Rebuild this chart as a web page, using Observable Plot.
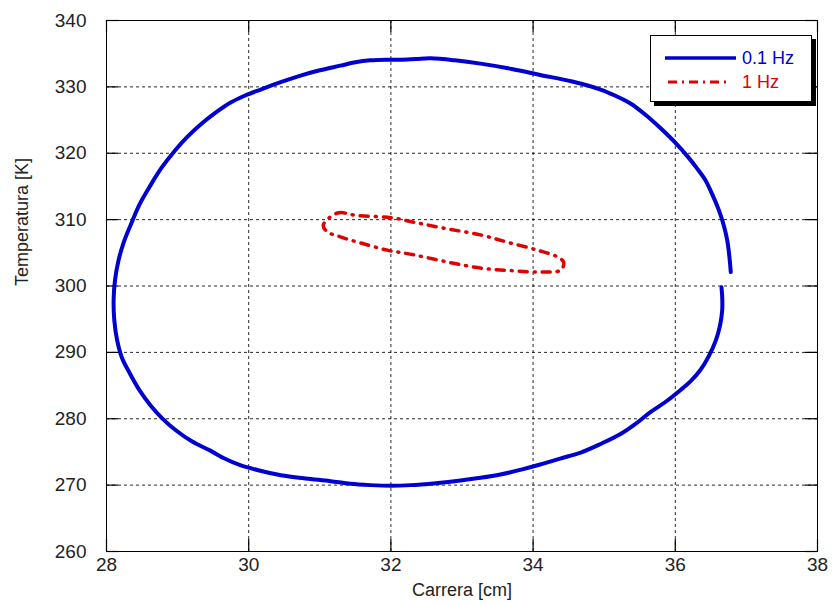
<!DOCTYPE html>
<html>
<head>
<meta charset="utf-8">
<script src="https://cdn.jsdelivr.net/npm/d3@7"></script>
<script src="https://cdn.jsdelivr.net/npm/@observablehq/plot@0.6"></script>
<style>
body{margin:0;background:#fff;font-family:"Liberation Sans",Arial,sans-serif;}
#wrap{position:relative;width:835px;height:605px;}
#legend{position:absolute;left:650px;top:35px;width:160px;height:65px;background:#fff;border:1.5px solid #000;box-shadow:4px 4px 0 #000;}
</style>
</head>
<body>
<div id="wrap"></div>
<script>
// Series 0.1 Hz (carrera cm, temperatura K)
const blueX = [36.78,36.76,36.73,36.68,36.61,36.52,36.42,36.30,36.19,36.00,35.79,35.58,35.37,35.15,34.95,34.55,34.10,33.70,33.26,32.90,32.56,32.35,32.13,31.92,31.71,31.50,31.29,31.00,30.73,30.45,30.17,29.95,29.74,29.52,29.32,29.14,28.97,28.78,28.62,28.46,28.34,28.24,28.17,28.12,28.10,28.11,28.15,28.22,28.34,28.47,28.62,28.78,28.97,29.20,29.46,29.66,29.88,30.15,30.45,30.80,31.15,31.43,31.71,32.00,32.28,32.63,32.98,33.26,33.54,33.82,34.10,34.38,34.67,34.95,35.23,35.45,35.65,35.87,36.07,36.22,36.35,36.47,36.57,36.63,36.66,36.66,36.65];
const blueY = [302.1,304.5,306.9,309.2,311.5,313.8,316.0,317.8,319.3,321.6,323.8,325.8,327.5,328.7,329.6,330.8,331.8,332.7,333.5,334.0,334.3,334.2,334.1,334.1,334.0,333.7,333.2,332.5,331.7,330.7,329.6,328.7,327.6,326.0,324.3,322.5,320.5,317.9,315.2,312.2,309.2,306.5,303.9,300.9,297.9,294.8,291.8,289.1,286.6,284.2,282.0,280.1,278.3,276.6,275.2,274.0,273.0,272.2,271.5,271.0,270.6,270.2,270.0,269.9,270.0,270.3,270.7,271.1,271.6,272.3,273.1,274.0,274.9,276.2,277.7,279.3,281.0,282.6,284.3,285.7,287.3,289.4,291.8,294.1,296.4,298.3,299.8];
// Series 1 Hz
const redX = [31.05,31.25,31.53,32.00,32.37,32.80,33.26,33.64,34.06,34.34,34.43,34.39,34.10,33.72,33.26,32.80,32.32,31.95,31.57,31.29,31.10];
const redY = [309.2,311.0,310.6,310.3,309.5,308.6,307.7,306.6,305.4,304.4,303.6,302.4,302.1,302.3,302.7,303.6,304.7,305.4,306.5,307.4,308.2];
const xTicks = [28,30,32,34,36,38];
const yTicks = [260,270,280,290,300,310,320,330,340];
const seriesNames = ["0.1 Hz","1 Hz"];
const xLabel = "Carrera [cm]";
const yLabel = "Temperatura [K]";

const blue = blueX.map((x,i)=>({x, y: blueY[i]}));
const red = redX.map((x,i)=>({x, y: redY[i]}));

const W = 835, H = 605, mL = 106, mR = 18, mT = 20, mB = 54;
const plotW = W - mL - mR, plotH = H - mT - mB;
const xDom = [28,38], yDom = [260,340];
const T = 12; // inward tick length in px, converted to data units below
const tY = T * (yDom[1]-yDom[0]) / plotH;
const tX = T * (xDom[1]-xDom[0]) / plotW;
const font = '"Liberation Sans", Arial, sans-serif';

const chart = Plot.plot({
  width: W, height: H,
  marginLeft: mL, marginRight: mR, marginTop: mT, marginBottom: mB,
  style: {fontFamily: font, fontSize: "18px", color: "#222", background: "#fff"},
  x: {domain: xDom, axis: null},
  y: {domain: yDom, axis: null},
  marks: [
    Plot.gridX(xTicks, {stroke: "#000", strokeOpacity: 0.85, strokeDasharray: "3,3"}),
    Plot.gridY(yTicks, {stroke: "#000", strokeOpacity: 0.85, strokeDasharray: "3,3"}),
    // inward ticks on all four sides
    Plot.ruleX(xTicks, {x: d=>d, y1: yDom[0], y2: yDom[0] + tY, stroke: "#000", strokeWidth: 1.2}),
    Plot.ruleX(xTicks, {x: d=>d, y1: yDom[1], y2: yDom[1] - tY, stroke: "#000", strokeWidth: 1.2}),
    Plot.ruleY(yTicks, {y: d=>d, x1: xDom[0], x2: xDom[0] + tX, stroke: "#000", strokeWidth: 1.2}),
    Plot.ruleY(yTicks, {y: d=>d, x1: xDom[1], x2: xDom[1] - tX, stroke: "#000", strokeWidth: 1.2}),
    // tick labels
    Plot.text(xTicks, {x: d=>d, frameAnchor: "bottom", dy: 19, text: d=>String(d), fontSize: 19, fill: "#222"}),
    Plot.text(yTicks, {y: d=>d, frameAnchor: "left", dx: -20, textAnchor: "end", text: d=>String(d), fontSize: 19, fill: "#222"}),
    // axis titles
    Plot.text([xLabel], {frameAnchor: "bottom", dy: 44, text: d=>d, fontSize: 18, fill: "#222"}),
    Plot.text([yLabel], {frameAnchor: "left", dx: -84, rotate: -90, text: d=>d, fontSize: 18, fill: "#222"}),
    Plot.frame({stroke: "#000", strokeWidth: 1}),
    Plot.line(blue, {x: "x", y: "y", stroke: "#0000d0", strokeWidth: 4, curve: "catmull-rom"}),
    Plot.line(red, {x: "x", y: "y", stroke: "#e00000", strokeWidth: 3.5, strokeDasharray: "8,7,1,7", strokeLinecap: "round", curve: "catmull-rom-closed"})
  ]
});
const wrap = document.getElementById("wrap");
wrap.appendChild(chart);

const lg = document.createElement("div");
lg.id = "legend";
lg.innerHTML = `
<svg width="160" height="65" style="position:absolute;left:0;top:0">
 <line x1="14" x2="85" y1="22" y2="22" stroke="#0000d0" stroke-width="3.5"/>
 <line x1="17" x2="76" y1="46" y2="46" stroke="#e00000" stroke-width="3" stroke-dasharray="9,5,2,5"/>
 <text x="91" y="28" fill="#0000d0" font-size="18" font-family="Liberation Sans, Arial, sans-serif">${seriesNames[0]}</text>
 <text x="91" y="52" fill="#e00000" font-size="18" font-family="Liberation Sans, Arial, sans-serif">${seriesNames[1]}</text>
</svg>`;
wrap.appendChild(lg);
</script>
</body>
</html>
